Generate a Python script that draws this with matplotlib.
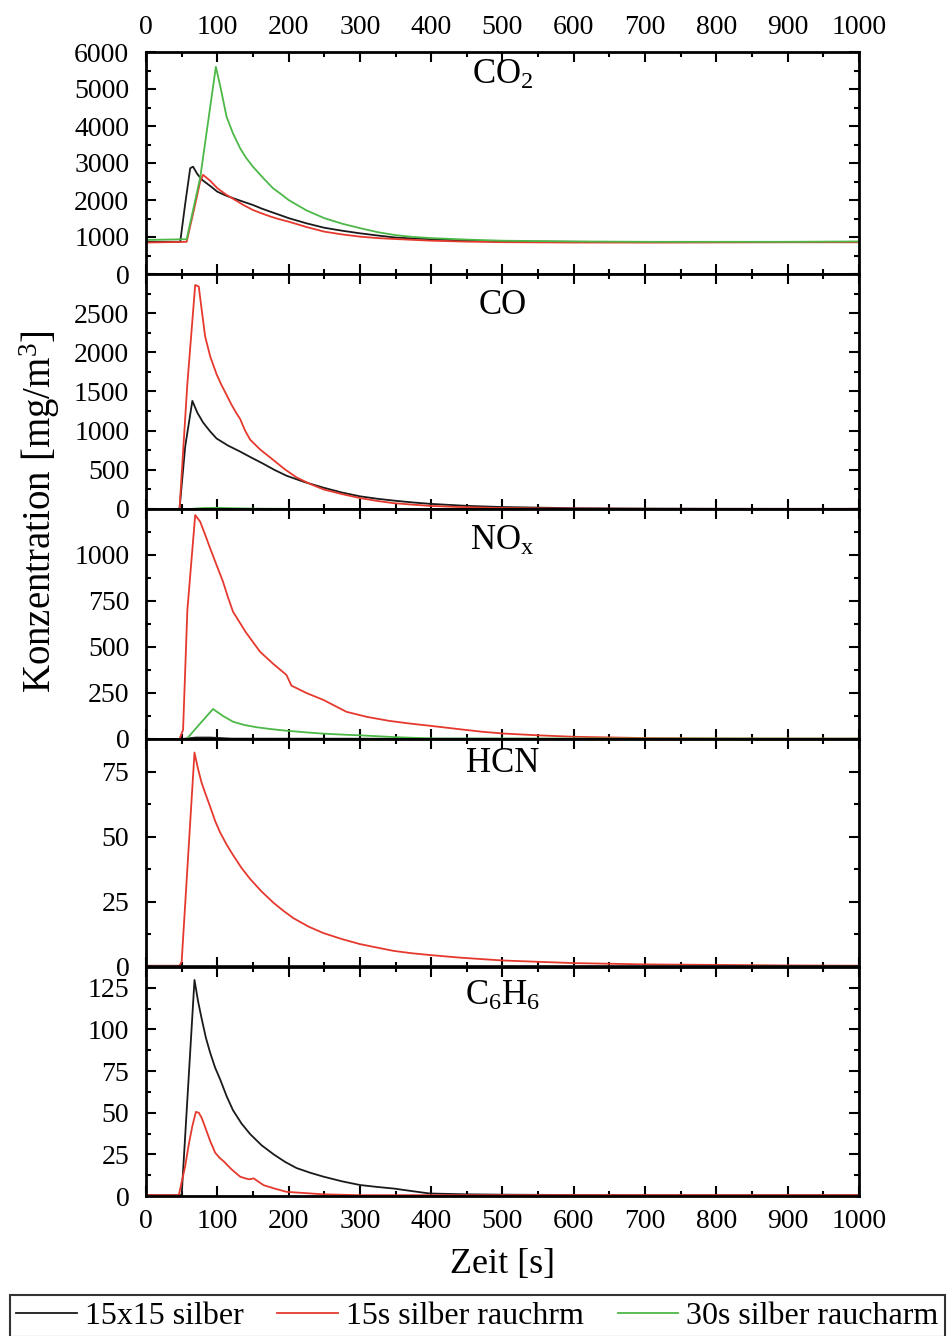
import matplotlib
matplotlib.use("Agg")
import matplotlib.pyplot as plt
from matplotlib.ticker import MultipleLocator, FixedLocator
from matplotlib.lines import Line2D

plt.rcParams['font.family'] = ['Liberation Serif', 'DejaVu Serif']
plt.rcParams['mathtext.fontset'] = 'custom'
plt.rcParams['mathtext.rm'] = 'Liberation Serif'
plt.rcParams['mathtext.it'] = 'Liberation Serif:italic'

series_names = ["15x15 silber", "15s silber rauchrm", "30s silber raucharm"]
colors = ["#1a1a1a", "#e5392e", "#4cb848"]

# ---- CO2 ----
co2_black_t = [0, 48, 55, 62, 66, 72, 79, 90, 100, 112, 125, 137, 150, 162, 175, 187, 200, 225, 250, 275, 300, 325, 350, 375, 400, 450, 500, 600, 700, 800, 900, 1000]
co2_black_v = [870, 870, 1900, 2860, 2900, 2700, 2540, 2380, 2225, 2120, 2030, 1950, 1865, 1770, 1680, 1600, 1510, 1370, 1250, 1170, 1100, 1040, 985, 960, 940, 900, 880, 870, 860, 860, 860, 860]
co2_red_t = [0, 57, 68, 76, 80, 90, 100, 112, 125, 137, 150, 162, 175, 187, 200, 225, 250, 275, 300, 325, 350, 400, 450, 500, 600, 700, 800, 900, 1000]
co2_red_v = [850, 870, 1800, 2500, 2680, 2520, 2320, 2150, 2000, 1860, 1730, 1640, 1550, 1480, 1415, 1270, 1145, 1070, 1010, 970, 945, 900, 875, 860, 850, 850, 855, 860, 860]
co2_green_t = [0, 57, 76, 98, 105, 113, 122, 132, 140, 150, 165, 178, 190, 200, 225, 250, 275, 300, 325, 350, 375, 400, 450, 500, 600, 700, 800, 900, 1000]
co2_green_v = [920, 940, 2600, 5600, 5000, 4250, 3800, 3400, 3150, 2900, 2580, 2320, 2150, 2000, 1720, 1510, 1360, 1240, 1130, 1050, 1000, 970, 930, 900, 880, 870, 870, 870, 880]

# ---- CO ----
co_black_t = [0, 47, 55, 65, 72, 80, 90, 99, 115, 132, 148, 164, 180, 197, 222, 249, 275, 300, 325, 350, 375, 398, 450, 500, 600, 700, 800, 900, 1000]
co_black_v = [0, 0, 800, 1380, 1230, 1105, 990, 900, 810, 733, 655, 580, 500, 425, 345, 272, 210, 162, 130, 105, 83, 66, 40, 25, 10, 5, 3, 2, 2]
co_red_t = [0, 47, 58, 69, 74, 78, 83, 90, 99, 106, 113, 120, 127, 132, 139, 146, 160, 179, 195, 211, 230, 249, 275, 300, 325, 347, 375, 398, 440, 500, 600, 700, 800, 900, 1000]
co_red_v = [0, 0, 1600, 2860, 2840, 2550, 2200, 1950, 1720, 1580, 1456, 1330, 1220, 1150, 1000, 886, 760, 622, 505, 404, 320, 250, 190, 140, 102, 75, 55, 40, 25, 12, 5, 3, 2, 2, 2]
co_green_t = [0, 60, 80, 100, 120, 160, 250, 1000]
co_green_v = [0, 0, 12, 15, 10, 4, 0, 0]

# ---- NOx ----
nox_black_t = [0, 50, 70, 90, 120, 1000]
nox_black_v = [0, 0, 8, 8, 2, 0]
nox_red_t = [0, 47, 52, 58, 69, 76, 83, 90, 99, 108, 115, 122, 140, 160, 178, 197, 204, 225, 249, 265, 281, 310, 342, 370, 398, 438, 470, 500, 550, 600, 700, 800, 1000]
nox_red_v = [0, 0, 50, 700, 1217, 1181, 1110, 1036, 945, 855, 770, 692, 580, 474, 410, 348, 290, 250, 212, 180, 148, 120, 98, 84, 72, 54, 40, 30, 20, 12, 5, 3, 2]
nox_green_t = [0, 57, 75, 94, 108, 122, 138, 155, 175, 197, 225, 249, 275, 300, 350, 400, 1000]
nox_green_v = [0, 0, 80, 163, 125, 94, 76, 64, 54, 45, 36, 29, 24, 20, 10, 3, 2]

# ---- HCN ----
hcn_black_t = [0, 1000]
hcn_black_v = [0.3, 0.3]
hcn_red_t = [0, 47, 50, 68, 73, 78, 84, 90, 97, 104, 113, 122, 134, 146, 162, 179, 193, 207, 228, 249, 275, 300, 325, 347, 372, 398, 440, 500, 600, 700, 800, 900, 1000]
hcn_red_v = [0.5, 0.5, 2, 82.3, 76, 70.7, 66, 61.5, 56, 51.6, 47, 43, 38, 33.8, 29, 24.6, 21.5, 18.7, 15.5, 13, 10.7, 8.8, 7.4, 6.2, 5.3, 4.6, 3.6, 2.5, 1.5, 1, 0.8, 0.6, 0.5]

# ---- C6H6 ----
c6h6_black_t = [0, 50, 68, 73, 78, 84, 90, 97, 104, 113, 122, 134, 146, 162, 179, 195, 211, 230, 249, 275, 300, 325, 347, 372, 398, 450, 500, 600, 700, 800, 900, 1000]
c6h6_black_v = [0.5, 0.5, 129.7, 117, 106.6, 95, 86, 77, 70, 60, 51.5, 43.5, 37.2, 30.5, 25, 20.5, 16.8, 14, 11.6, 8.8, 6.6, 5.4, 4.5, 3, 1.5, 1, 0.8, 0.6, 0.5, 0.5, 0.5, 0.5]
c6h6_red_t = [0, 46, 55, 60, 65, 70, 74, 78, 83, 90, 97, 103, 109, 120, 132, 140, 145, 151, 158, 165, 180, 197, 249, 300, 1000]
c6h6_red_v = [0.5, 0.5, 18, 31, 42, 50.5, 50, 47, 41.3, 33, 26, 23, 20.8, 16, 11.6, 10.5, 10, 10.6, 8.5, 6.5, 4.5, 2.5, 1, 0.5, 0.5]

# y tick labels per panel
co2_yticks = [0, 1000, 2000, 3000, 4000, 5000, 6000]
co_yticks = [0, 500, 1000, 1500, 2000, 2500]
nox_yticks = [0, 250, 500, 750, 1000]
hcn_yticks = [0, 25, 50, 75]
c6h6_yticks = [0, 25, 50, 75, 100, 125]
x_ticks = [0, 100, 200, 300, 400, 500, 600, 700, 800, 900, 1000]

panels = [
    dict(title=r"CO$_{\mathrm{2}}$", ylim=6000, ticks=co2_yticks, minor=500,
         lines=[(co2_black_t, co2_black_v, 0), (co2_red_t, co2_red_v, 1), (co2_green_t, co2_green_v, 2)],
         box=(52, 274), ty=0.856),
    dict(title="CO", ylim=3000, ticks=co_yticks, minor=250,
         lines=[(co_black_t, co_black_v, 0), (co_red_t, co_red_v, 1), (co_green_t, co_green_v, 2)],
         box=(274, 509), ty=0.83),
    dict(title=r"NO$_{\mathrm{x}}$", ylim=1250, ticks=nox_yticks, minor=125,
         lines=[(nox_black_t, nox_black_v, 0), (nox_red_t, nox_red_v, 1), (nox_green_t, nox_green_v, 2)],
         box=(509, 739), ty=0.82),
    dict(title="HCN", ylim=87.5, ticks=hcn_yticks, minor=12.5,
         lines=[(hcn_red_t, hcn_red_v, 1), (hcn_black_t, hcn_black_v, 0)],
         box=(739, 967), ty=0.855),
    dict(title=r"C$_{\mathrm{6}}$H$_{\mathrm{6}}$", ylim=137.5, ticks=c6h6_yticks, minor=12.5,
         lines=[(c6h6_black_t, c6h6_black_v, 0), (c6h6_red_t, c6h6_red_v, 1)],
         box=(967, 1196), ty=0.834),
]

W, H = 951, 1336
fig = plt.figure(figsize=(W / 100, H / 100), dpi=100)
left = 146 / W
width = (859 - 146) / W

for i, p in enumerate(panels):
    top, bot = p['box']
    ax = fig.add_axes([left, 1 - bot / H, width, (bot - top) / H])
    for t, v, ci in p['lines']:
        ax.plot(t, v, color=colors[ci], lw=1.3)
    ax.set_xlim(0, 1000)
    ax.set_ylim(0, p['ylim'])
    ax.xaxis.set_major_locator(FixedLocator(x_ticks))
    ax.xaxis.set_minor_locator(MultipleLocator(50))
    ax.yaxis.set_major_locator(FixedLocator(p['ticks']))
    ax.yaxis.set_minor_locator(MultipleLocator(p['minor']))
    ax.tick_params(which='both', direction='in', top=True, right=True,
                   width=1.5, labelsize=20)
    ax.tick_params(which='major', length=7.5)
    ax.tick_params(which='minor', length=3.8)
    ax.tick_params(axis='y', pad=12)
    ax.tick_params(axis='x', labelbottom=(i == len(panels) - 1), labeltop=(i == 0), pad=9)
    for s in ax.spines.values():
        s.set_linewidth(2.0)
    ax.text(0.5, p['ty'], p['title'], transform=ax.transAxes, ha='center',
            va='baseline', fontsize=25)

fig.text(0.5 * (146 + 859) / W, 1 - 1265 / H, "Zeit [s]", ha='center', va='center', fontsize=26)
fig.text(40 / W, 1 - 512 / H, "Konzentration [mg/m$^{\\mathrm{3}}$]", rotation=90,
         ha='center', va='center', fontsize=28)

handles = [Line2D([], [], color=c, lw=1.3) for c in colors]
leg = fig.legend(handles, series_names, loc='upper left',
                 bbox_to_anchor=(10 / W, 1 - 1338 / H, 935 / W, 43 / H),
                 mode='expand', ncol=3, fontsize=23, frameon=True, fancybox=False,
                 edgecolor='black', handlelength=1.9, handletextpad=0.25,
                 columnspacing=0.3, borderpad=0.2, borderaxespad=0)
leg.get_frame().set_linewidth(1.5)

fig.savefig("out.png", dpi=100)
